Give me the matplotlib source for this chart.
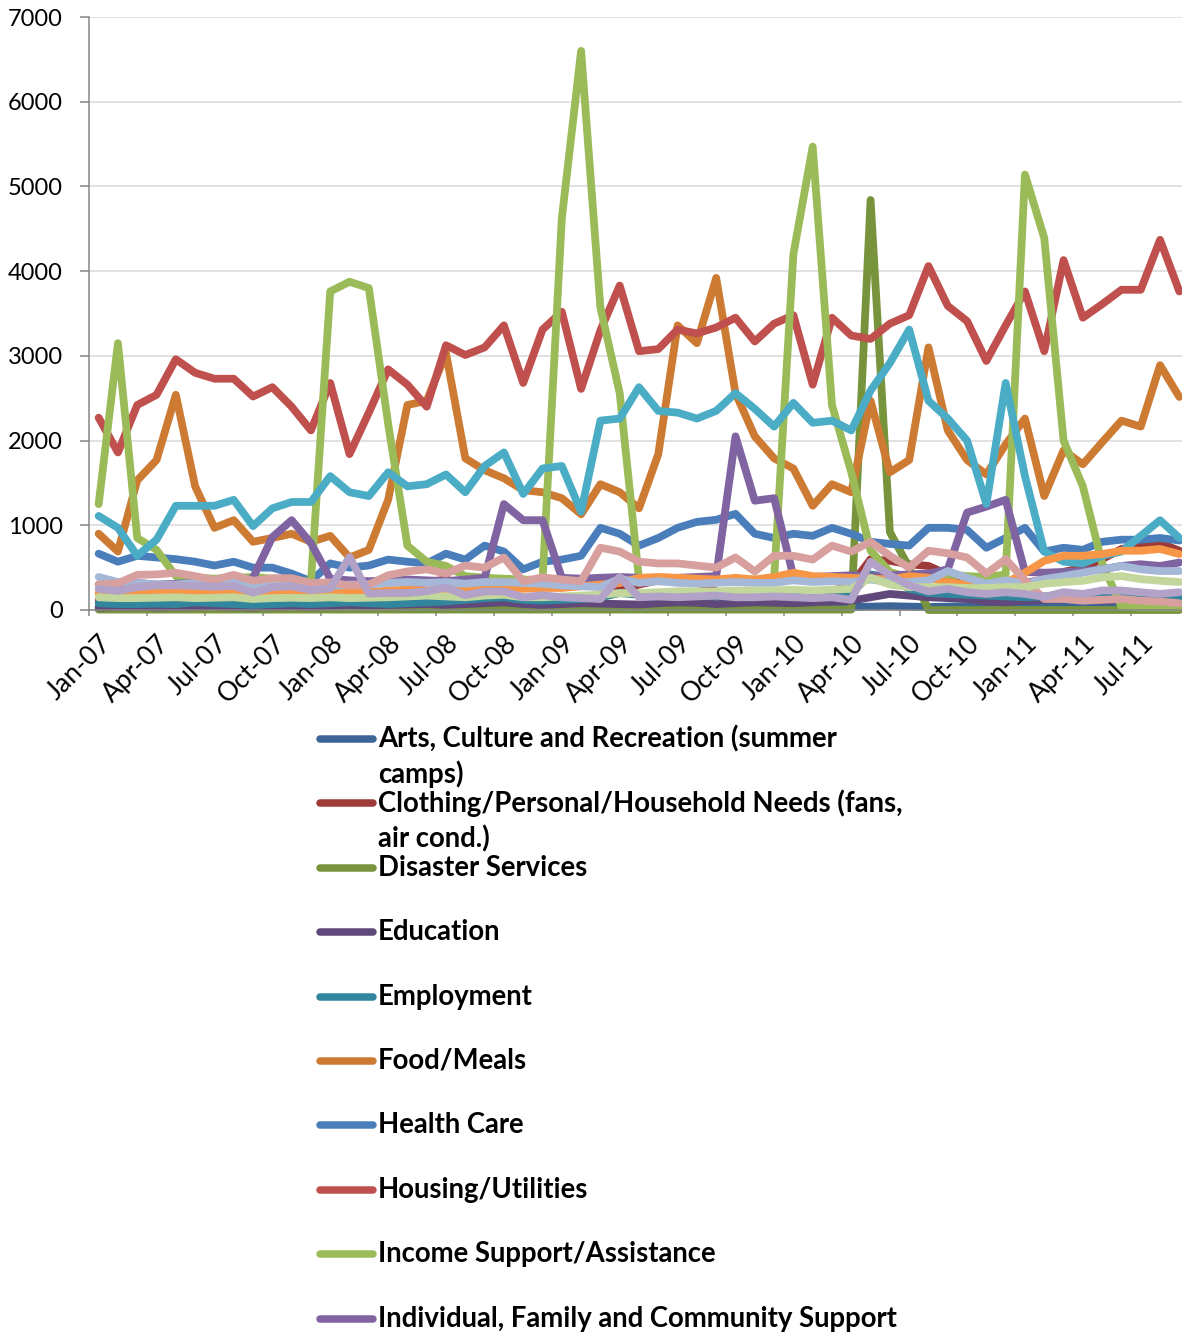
import numpy as np
import pandas as pd
import matplotlib
matplotlib.use("Agg")
import matplotlib.pyplot as plt
from matplotlib.lines import Line2D

# ---- data: monthly call counts, Jan-2007 .. Sep-2011 ----
months = pd.date_range("2007-01-01", periods=57, freq="MS")
month_labels = [m.strftime("%b-%y") for m in months]

arts = [30, 25, 20, 25, 30, 40, 35, 30, 25, 20, 20, 25, 40, 45, 30, 35, 40, 30, 35, 30,
        45, 40, 30, 25, 20, 25, 30, 35, 30, 25, 30, 25, 20, 25, 30, 25, 20, 25, 30, 35,
        40, 45, 40, 35, 40, 45, 40, 35, 40, 45, 40, 45, 50, 55, 50, 45, 50]
clothing = [120, 110, 130, 150, 220, 300, 320, 280, 180, 140, 120, 110, 120, 110, 140, 170,
            250, 330, 360, 300, 200, 160, 140, 130, 130, 150, 180, 230, 300, 350, 380, 330,
            220, 180, 160, 150, 160, 180, 220, 300, 600, 580, 540, 520, 420, 380, 360, 330,
            320, 360, 450, 500, 600, 720, 760, 790, 700]
disaster = [5, 5, 5, 5, 5, 5, 5, 5, 5, 5, 5, 5, 5, 5, 5, 5, 5, 5, 5, 5,
            5, 5, 5, 5, 5, 5, 5, 5, 5, 5, 5, 5, 5, 5, 5, 5, 5, 5, 5, 5,
            4840, 920, 500, 0, 0, 0, 0, 0, 0, 0, 0, 0, 0, 0, 0, 0, 0]
education = [30, 35, 40, 30, 35, 40, 45, 35, 30, 40, 45, 35, 50, 60, 55, 60, 65, 70, 60, 70,
             80, 90, 70, 60, 70, 80, 75, 70, 65, 80, 90, 85, 70, 80, 90, 85, 80, 90, 100, 110,
             150, 190, 170, 150, 140, 130, 100, 90, 110, 120, 130, 120, 110, 120, 130, 120, 110]
employment = [80, 70, 70, 75, 70, 90, 80, 70, 60, 70, 80, 70, 80, 90, 80, 70, 80, 90, 100, 120,
              140, 150, 120, 110, 120, 130, 150, 200, 180, 170, 160, 170, 160, 170, 160, 170, 180, 170, 180, 200,
              420, 380, 250, 200, 190, 180, 170, 160, 150, 160, 180, 170, 160, 150, 160, 150, 140]
food = [900, 690, 1530, 1770, 2540, 1460, 970, 1060, 805, 850, 900, 805, 875, 620, 710, 1300,
        2420, 2470, 3030, 1790, 1650, 1555, 1415, 1390, 1320, 1130, 1485, 1390, 1200, 1840, 3360, 3150,
        3920, 2560, 2050, 1790, 1670, 1230, 1485, 1390, 2470, 1625, 1770, 3100, 2120, 1770, 1600, 1955,
        2260, 1345, 1885, 1720, 1980, 2235, 2165, 2890, 2515]
health = [665, 570, 640, 620, 600, 570, 525, 570, 500, 500, 430, 340, 550, 500, 525, 595,
          570, 550, 665, 595, 760, 690, 480, 570, 595, 640, 970, 900, 760, 850, 970, 1040,
          1065, 1135, 900, 850, 900, 875, 970, 900, 805, 780, 760, 970, 970, 945, 735, 850,
          970, 690, 735, 710, 805, 830, 830, 850, 820]
housing = [2270, 1860, 2420, 2540, 2960, 2800, 2730, 2730, 2520, 2630, 2400, 2120, 2680, 1840, 2330, 2840,
           2660, 2400, 3125, 3010, 3100, 3360, 2680, 3310, 3520, 2610, 3300, 3830, 3055, 3080, 3310, 3265,
           3335, 3450, 3170, 3380, 3480, 2660, 3450, 3240, 3200, 3380, 3480, 4060, 3590, 3410, 2940, 3360,
           3760, 3055, 4130, 3450, 3610, 3780, 3780, 4370, 3760]
income = [1250, 3150, 850, 710, 400, 380, 370, 380, 390, 370, 360, 330, 3760, 3875, 3800, 2200,
          760, 570, 520, 400, 380, 370, 360, 350, 4620, 6600, 3570, 2560, 360, 350, 360, 370,
          360, 350, 360, 370, 4200, 5470, 2420, 1625, 700, 450, 380, 430, 420, 400, 390, 420,
          5140, 4390, 2000, 1460, 550, 40, 30, 30, 30]
individual = [300, 310, 320, 300, 310, 320, 300, 310, 380, 860, 1060, 790, 370, 350, 340, 350,
              360, 350, 340, 360, 380, 1250, 1060, 1060, 380, 370, 380, 390, 380, 370, 380, 390,
              400, 2050, 1290, 1320, 400, 390, 400, 410, 400, 410, 420, 430, 480, 1150, 1220, 1300,
              450, 440, 450, 460, 480, 520, 540, 520, 560]

# further categories further down the legend
cyan_series = [1110, 970, 640, 830, 1230, 1230, 1230, 1300, 990, 1200, 1275, 1275, 1580, 1390, 1345, 1625,
               1460, 1485, 1600, 1390, 1700, 1860, 1370, 1670, 1700, 1160, 2235, 2260, 2630, 2350, 2330, 2260,
               2350, 2560, 2375, 2165, 2445, 2210, 2235, 2120, 2590, 2915, 3310, 2470, 2260, 2000, 1250, 2680,
               1580, 690, 570, 550, 640, 690, 875, 1060, 850]
orange_series = [200, 210, 230, 210, 200, 220, 200, 210, 220, 200, 210, 220, 230, 220, 210, 230,
                 240, 230, 250, 240, 260, 270, 250, 260, 260, 280, 300, 320, 380, 390, 380, 370,
                 360, 380, 360, 390, 440, 400, 390, 380, 370, 360, 400, 380, 330, 300, 280, 320,
                 440, 580, 640, 640, 660, 700, 700, 720, 660]
blue_series = [390, 330, 320, 300, 300, 320, 300, 330, 300, 280, 290, 270, 280, 300, 300, 320,
               330, 320, 330, 310, 330, 330, 320, 310, 290, 280, 270, 370, 320, 340, 320, 310,
               320, 330, 320, 320, 350, 330, 340, 330, 360, 330, 330, 350, 460, 380, 310, 350,
               310, 365, 400, 440, 480, 520, 480, 460, 460]
pink_series = [300, 315, 415, 420, 440, 400, 355, 415, 345, 375, 375, 320, 325, 290, 300, 410,
               455, 480, 430, 525, 500, 620, 340, 385, 360, 340, 735, 690, 570, 550, 550, 525,
               500, 620, 455, 640, 640, 595, 760, 690, 805, 640, 500, 700, 670, 620, 430, 600,
               350, 130, 130, 110, 120, 130, 110, 100, 80]
sage_series = [150, 140, 140, 145, 150, 140, 145, 150, 130, 140, 145, 140, 150, 140, 145, 150,
               160, 170, 160, 150, 170, 180, 150, 150, 160, 170, 180, 200, 200, 210, 220, 220,
               220, 230, 230, 230, 240, 230, 240, 250, 380, 300, 270, 270, 270, 260, 260, 270,
               270, 310, 330, 345, 385, 400, 365, 345, 330]
lavender_series = [250, 225, 270, 290, 290, 285, 275, 285, 205, 270, 280, 235, 255, 625, 195, 200,
                   200, 220, 265, 175, 220, 220, 150, 175, 150, 140, 130, 390, 150, 160, 150, 160,
                   170, 150, 150, 160, 150, 140, 150, 120, 570, 410, 290, 220, 250, 210, 190, 210,
                   190, 155, 210, 190, 230, 230, 210, 190, 210]

legend_names = [
    "Arts, Culture and Recreation (summer\ncamps)",
    "Clothing/Personal/Household Needs (fans,\nair cond.)",
    "Disaster Services",
    "Education",
    "Employment",
    "Food/Meals",
    "Health Care",
    "Housing/Utilities",
    "Income Support/Assistance",
    "Individual, Family and Community Support",
]
named_values = [arts, clothing, disaster, education, employment, food, health, housing,
                income, individual]
named_colors = ["#3C6496", "#9E3B38", "#77933C", "#60497A", "#31859C", "#CD7A32",
                "#4A7EBB", "#C0504D", "#9BBB59", "#8064A2"]

extra_values = [cyan_series, orange_series, blue_series, pink_series, sage_series, lavender_series]
extra_colors = ["#4BACC6", "#F79646", "#A5B8D8", "#D7A09E", "#C3D69B", "#B3A2C7"]

# ---- figure ----
W, H = 1182, 1333
fig = plt.figure(figsize=(W / 100, H / 100), dpi=100)
plt.rcParams["font.family"] = ["Lato", "DejaVu Sans"]

def fx(px):
    return px / W

def fy(py):
    return 1 - py / H

ax_left, ax_right, ax_top, ax_bottom = 89, 1189, 17, 610
ax = fig.add_axes([fx(ax_left), fy(ax_bottom), fx(ax_right - ax_left), (ax_bottom - ax_top) / H])

x = np.arange(len(months))
for vals, col in zip(named_values + extra_values, named_colors + extra_colors):
    ax.plot(x, vals, color=col, lw=5.6, solid_joinstyle="round", solid_capstyle="round",
            clip_on=False)

ax.set_xlim(-0.5, len(months) - 0.5)
ax.set_ylim(0, 7000)
ax.set_yticks(np.arange(0, 7001, 1000))
ax.yaxis.grid(True, color="#D9D9D9", lw=1.1)
ax.set_axisbelow(True)

for s in ["top", "right"]:
    ax.spines[s].set_visible(False)
for s in ["left", "bottom"]:
    ax.spines[s].set_color("#868686")
    ax.spines[s].set_linewidth(1.1)

ax.tick_params(axis="y", direction="out", length=6.5, width=1.1, color="#868686",
               labelsize=17, pad=12.5)

label_pos = x[::3]
ax.set_xticks(label_pos)
ax.set_xticklabels([month_labels[i] for i in label_pos], rotation=45, ha="right",
                   va="top", rotation_mode="anchor", fontsize=19)
ax.tick_params(axis="x", which="major", length=0, pad=15)
ax.set_xticks(np.arange(-0.5, len(months), 3), minor=True)
ax.tick_params(axis="x", which="minor", direction="out", length=4.5, width=1.1, color="#868686")

# ---- legend ----
first_y, step = 739, 64.4
for k, (name, col) in enumerate(zip(legend_names, named_colors)):
    yc = first_y + step * k
    fig.add_artist(Line2D([fx(320), fx(373)], [fy(yc), fy(yc)], transform=fig.transFigure,
                          color=col, lw=5.4, solid_capstyle="round"))
    for j, line in enumerate(name.split("\n")):
        fig.text(fx(378), fy(yc + 35 * j), line, fontsize=19.8, fontweight="bold",
                 ha="left", va="center")

fig.savefig("out.png", dpi=100)
